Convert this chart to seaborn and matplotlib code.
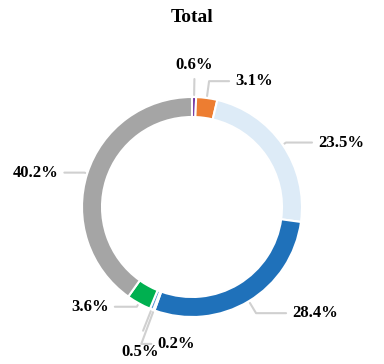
import numpy as np
import seaborn as sns
import matplotlib
matplotlib.use("Agg")
import matplotlib.pyplot as plt

# data
labels = ["0.6%", "3.1%", "23.5%", "28.4%", "0.2%", "0.5%", "3.6%", "40.2%"]
values = [0.6, 3.1, 23.5, 28.4, 0.2, 0.5, 3.6, 40.2]
colors = ["#7030A0", "#ED7D31", "#DDEBF7", "#1F71BA", "#FFC000", "#5B9BD5", "#00B050", "#A5A5A5"]

# label placement: elbow radius, dx, dy, ha, va
label_style = [
    (128, 0, 6, "center", "bottom"),
    (127, 20, 0, "left", "center"),
    (114, 26, 0, "left", "center"),
    (124, 30, 0, "left", "center"),
    (146, 10, 0, "left", "center"),
    (133, -3, -13, "center", "top"),
    (114, -22, 0, "right", "center"),
    (113, -20, 0, "right", "center"),
]

sns.set_theme(style="white")
plt.rcParams["font.family"] = ["Liberation Serif", "DejaVu Serif"]
plt.rcParams["text.color"] = "black"

fig = plt.figure(figsize=(3.84, 3.64), dpi=100)
ax = fig.add_axes([0, 0, 1, 1])
R = 110
ax.pie(values, colors=colors, radius=R, startangle=90, counterclock=False,
       wedgeprops=dict(width=20, edgecolor="white", linewidth=1.5))
ax.set_xlim(-192, 192)
ax.set_ylim(-157, 207)
ax.set_aspect("equal")
ax.axis("off")

cum = np.cumsum([0] + values[:-1])
total = sum(values)
for lab, v, c0, (re, dx, dy, ha, va) in zip(labels, values, cum, label_style):
    th = np.deg2rad(90 - 360 * (c0 + v / 2) / total)
    p0 = np.array([np.cos(th), np.sin(th)]) * (R + 2)
    p1 = np.array([np.cos(th), np.sin(th)]) * re
    p2 = p1 + np.array([dx if va == "center" else 0, 0])
    ax.plot([p0[0], p1[0], p2[0]], [p0[1], p1[1], p2[1]], color="#D0D0D0", lw=1.5, zorder=0)
    tx = p2[0] + (6 if ha == "left" else -6 if ha == "right" else dx)
    ax.text(tx, p2[1] + dy, lab, ha=ha, va=va, fontsize=12, fontweight="bold", color="black")

ax.text(0, 189, "Total", ha="center", va="center", fontsize=14, fontweight="bold", color="black")

fig.savefig("out.png", dpi=100)
